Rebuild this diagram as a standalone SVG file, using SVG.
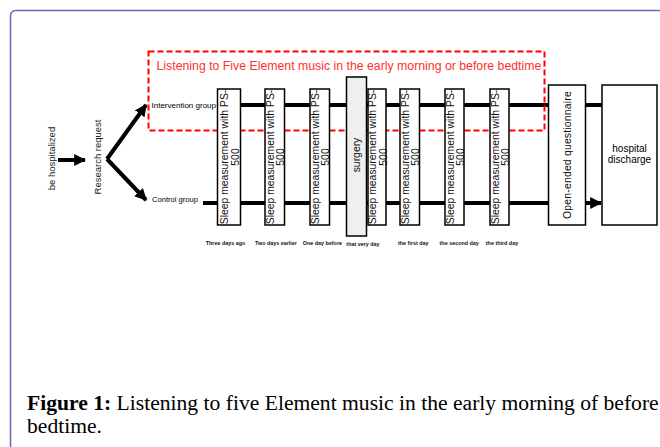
<svg xmlns="http://www.w3.org/2000/svg" width="660" height="447" viewBox="0 0 660 447">
<style>
  .frame { fill: #ffffff; stroke: #6f69a6; stroke-width: 1.5; }
  .box { fill: #ffffff; stroke: #000000; stroke-width: 1.5; }
  .gbox { fill: #efefef; stroke: #000000; stroke-width: 1.5; }
  .t { font-family: "Liberation Sans", Arial, sans-serif; fill: #000000; }
  .bt { font-family: "Liberation Sans", Arial, sans-serif; font-size: 10.4px; fill: #111111; text-anchor: middle; dominant-baseline: central; }
  .day { font-family: "Liberation Sans", Arial, sans-serif; font-size: 5.4px; fill: #111111; text-anchor: middle; font-weight: bold; }
  .line { stroke: #000000; stroke-width: 4; fill: none; }
  .cap { font-family: "Liberation Serif", "Times New Roman", serif; font-size: 21.6px; fill: #000000; }
</style>
<defs>
  <marker id="ah" viewBox="0 0 10 10" refX="9" refY="5" markerWidth="3" markerHeight="3" orient="auto" markerUnits="strokeWidth">
    <path d="M0,0 L10,5 L0,10 Z" fill="#000000"/>
  </marker>
</defs>
<rect class="frame" x="10.5" y="10.5" width="700" height="500" rx="5"/>

<g id="connectors">
  <line class="line" x1="58" y1="160" x2="85" y2="160" marker-end="url(#ah)"/>
  <line class="line" x1="107" y1="159" x2="146" y2="105" marker-end="url(#ah)"/>
  <line class="line" x1="107" y1="159" x2="146" y2="200" marker-end="url(#ah)"/>
  <line class="line" x1="217" y1="105" x2="602" y2="105"/>
  <line class="line" x1="203" y1="203" x2="601" y2="203" marker-end="url(#ah)"/>
</g>

<g id="music-zone">
  <rect x="148.5" y="51.5" width="396" height="79" fill="none" stroke="#ff0000" stroke-width="2" stroke-dasharray="6 3"/>
  <text class="t" x="156.5" y="70" font-size="12.3" style="fill:#ff3030">Listening to Five Element music in the early morning or before bedtime</text>
</g>

<g id="be-hospitalized">
  <text class="t" transform="translate(51,158.5) rotate(-90)" font-size="9.5" text-anchor="middle" dominant-baseline="central" style="fill:#222">be hospitalized</text>
</g>
<g id="research-request">
  <text class="t" transform="translate(97,157) rotate(-90)" font-size="9.5" text-anchor="middle" dominant-baseline="central" style="fill:#222">Research request</text>
</g>
<g id="intervention-group">
  <text class="t" x="151.5" y="108.3" font-size="8">Intervention group</text>
</g>
<g id="control-group">
  <text class="t" x="152" y="202" font-size="7.6">Control group</text>
</g>

<g id="sleep1">
  <rect class="box" x="217.5" y="89" width="23" height="136"/>
  <text class="bt" transform="translate(229,157) rotate(-90)"><tspan x="0" y="-5">Sleep measurement with PS-</tspan><tspan x="0" y="5.8">500</tspan></text>
</g>
<g id="sleep2">
  <rect class="box" x="265" y="89" width="19.5" height="136"/>
  <text class="bt" transform="translate(274.7,157) rotate(-90)"><tspan x="0" y="-5">Sleep measurement with PS-</tspan><tspan x="0" y="5.8">500</tspan></text>
</g>
<g id="sleep3">
  <rect class="box" x="310" y="89" width="19.5" height="136"/>
  <text class="bt" transform="translate(319.7,157) rotate(-90)"><tspan x="0" y="-5">Sleep measurement with PS-</tspan><tspan x="0" y="5.8">500</tspan></text>
</g>
<g id="surgery">
  <rect class="gbox" x="346.5" y="77" width="20" height="159"/>
  <text class="bt" transform="translate(356.5,155) rotate(-90)" font-size="10">surgery</text>
</g>
<g id="sleep4">
  <rect class="box" x="368" y="89" width="18" height="136"/>
  <text class="bt" transform="translate(377,157) rotate(-90)"><tspan x="0" y="-5">Sleep measurement with PS-</tspan><tspan x="0" y="5.8">500</tspan></text>
</g>
<g id="sleep5">
  <rect class="box" x="400" y="89" width="19.5" height="136"/>
  <text class="bt" transform="translate(409.7,157) rotate(-90)"><tspan x="0" y="-5">Sleep measurement with PS-</tspan><tspan x="0" y="5.8">500</tspan></text>
</g>
<g id="sleep6">
  <rect class="box" x="445" y="89" width="19" height="136"/>
  <text class="bt" transform="translate(454.5,157) rotate(-90)"><tspan x="0" y="-5">Sleep measurement with PS-</tspan><tspan x="0" y="5.8">500</tspan></text>
</g>
<g id="sleep7">
  <rect class="box" x="490" y="89" width="19" height="136"/>
  <text class="bt" transform="translate(499.5,157) rotate(-90)"><tspan x="0" y="-5">Sleep measurement with PS-</tspan><tspan x="0" y="5.8">500</tspan></text>
</g>
<g id="questionnaire">
  <rect class="box" x="548.5" y="85" width="37" height="140"/>
  <text class="bt" transform="translate(567,155) rotate(-90)" font-size="10" letter-spacing="0.2">Open-ended questionnaire</text>
</g>
<g id="hospital-discharge">
  <rect class="box" x="602" y="85" width="55" height="140"/>
  <text class="t" font-size="10" text-anchor="middle"><tspan x="629.5" y="152">hospital</tspan><tspan x="629.5" y="163">discharge</tspan></text>
</g>

<g id="day-labels">
  <text class="day" x="225.5" y="245">Three days ago</text>
  <text class="day" x="276" y="245">Two days earlier</text>
  <text class="day" x="322.4" y="245">One day before</text>
  <text class="day" x="363" y="246">that very day</text>
  <text class="day" x="413.3" y="245">the first day</text>
  <text class="day" x="459.2" y="245">the second day</text>
  <text class="day" x="502" y="245">the third day</text>
</g>

<g id="caption">
  <text class="cap" x="27" y="410"><tspan font-weight="bold">Figure 1:</tspan> Listening to five Element music in the early morning of before</text>
  <text class="cap" x="27" y="433">bedtime.</text>
</g>
</svg>
